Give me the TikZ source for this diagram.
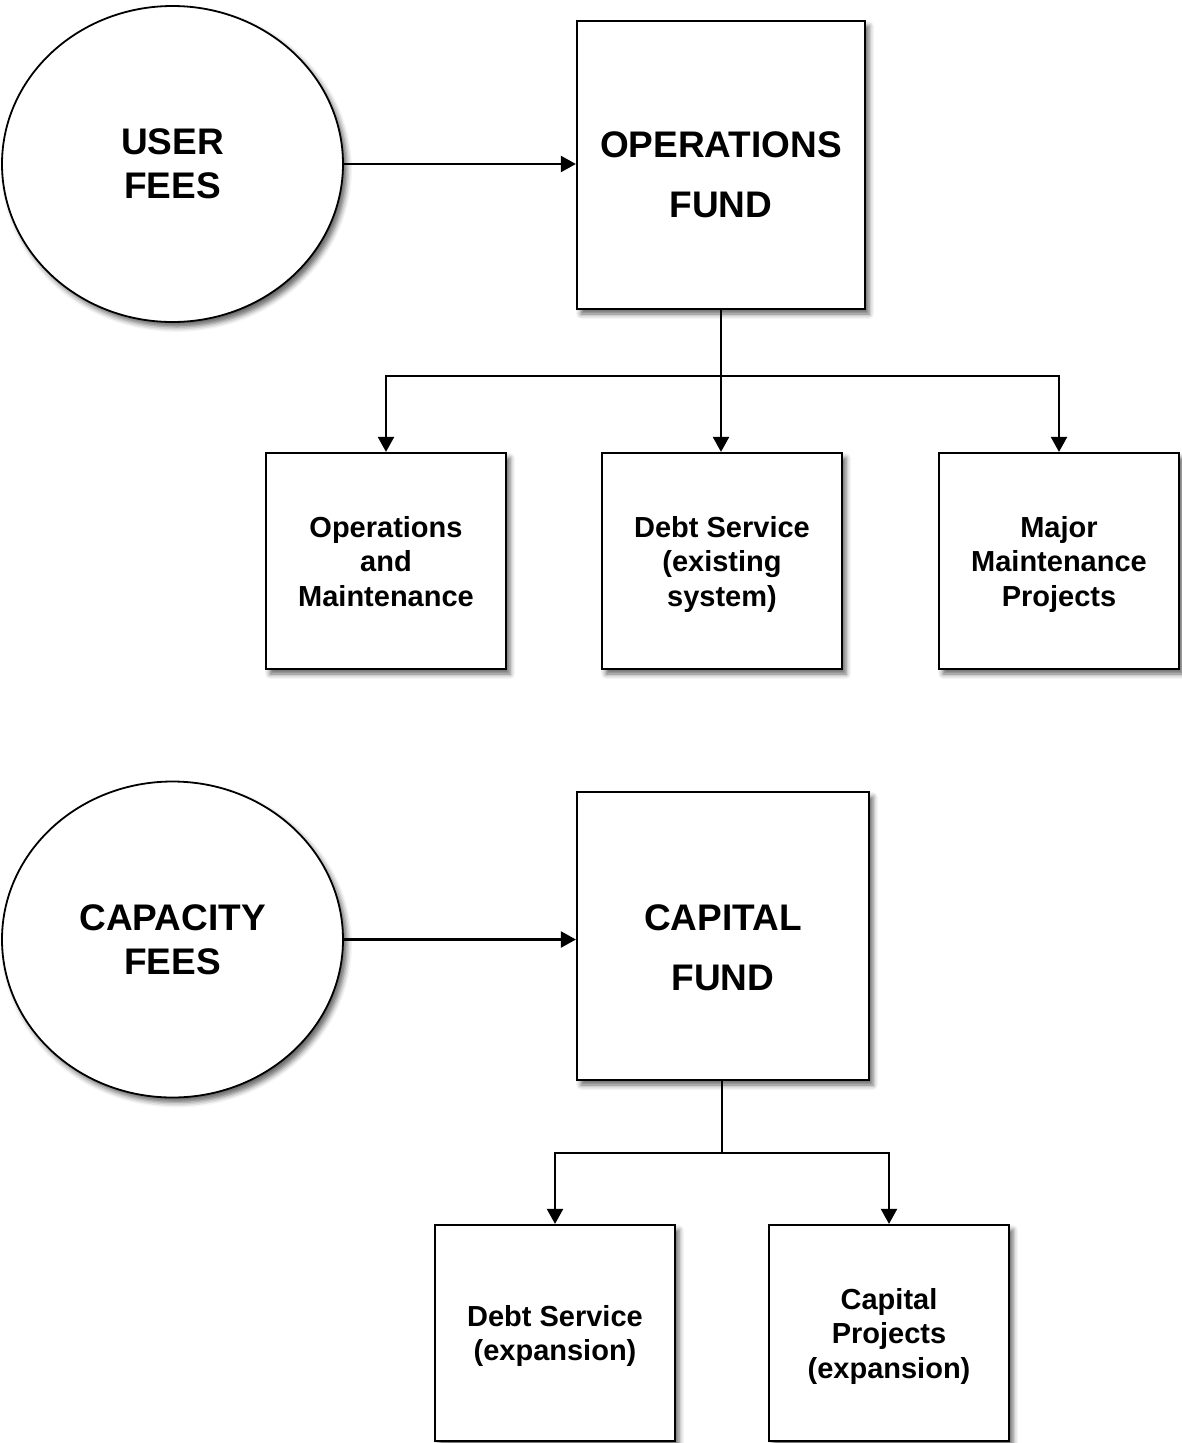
\documentclass[tikz,border=0pt]{standalone}
\usepackage{fontspec}
\setmainfont{Liberation Sans}
\usetikzlibrary{arrows.meta,shapes.geometric,shadows.blur}
\begin{document}
\begin{tikzpicture}[x=1pt,y=1pt,
  shad/.style={blur shadow={shadow xshift=4pt,shadow yshift=-5pt,shadow blur radius=5pt,shadow opacity=60}},
  fee/.style={ellipse,draw,line width=1.8pt,fill=white,shad,minimum width=341pt,minimum height=316pt,
    align=center,font=\fontsize{37}{44}\selectfont\bfseries,text depth=0pt},
  fundbox/.style={rectangle,draw,line width=2.2pt,fill=white,shad,minimum height=288pt},
  fundtxt/.style={align=center,font=\fontsize{37}{60}\selectfont\bfseries,inner sep=0pt,text depth=0pt},
  usebox/.style={rectangle,draw,line width=2.2pt,fill=white,shad,minimum width=240pt,minimum height=216pt,
    align=center,font=\fontsize{29}{34.5}\selectfont\bfseries,text depth=0pt},
  conn/.style={line width=2.2pt},
  arr/.style={line width=2.2pt,-{Triangle[length=15pt,width=16pt]}}]
\useasboundingbox (0,0) rectangle (1181,-1443);

% ---- upper part ----
\node[fee] (uf) at (172.5,-164) {USER\\FEES};
\node[fundbox,minimum width=288pt] (ops) at (721,-165) {};
\node[fundtxt] (opsT) at (721,-175) {OPERATIONS\\FUND};
\draw[arr] (uf.east) -- (uf.east -| ops.west);

\node[usebox] (om) at (386,-561) {Operations\\and\\Maintenance};
\node[usebox] (ds1) at (722,-561) {Debt Service\\(existing\\system)};
\node[usebox] (mm) at (1059,-561) {Major\\Maintenance\\Projects};

\coordinate (j1) at (721,-376);
\draw[conn] (ops.south) -- (j1);
\draw[arr] (j1) -| (om.north);
\draw[arr] (j1) -| (mm.north);
\draw[arr] (j1) -- (j1 |- ds1.north);

% ---- lower part ----
\node[fee] (cf) at (172.5,-939.5) {CAPACITY\\FEES};
\node[fundbox,minimum width=292pt] (cap) at (723,-936) {};
\node[fundtxt] (capT) at (723,-948) {CAPITAL\\FUND};
\draw[arr] (cf.east) -- (cf.east -| cap.west);

\node[usebox] (ds2) at (555,-1333) {Debt Service\\(expansion)};
\node[usebox] (cp) at (889,-1333) {Capital\\Projects\\(expansion)};

\coordinate (j2) at (722,-1153);
\draw[conn] (j2 |- cap.south) -- (j2);
\draw[arr] (j2) -| (ds2.north);
\draw[arr] (j2) -| (cp.north);
\end{tikzpicture}
\end{document}
